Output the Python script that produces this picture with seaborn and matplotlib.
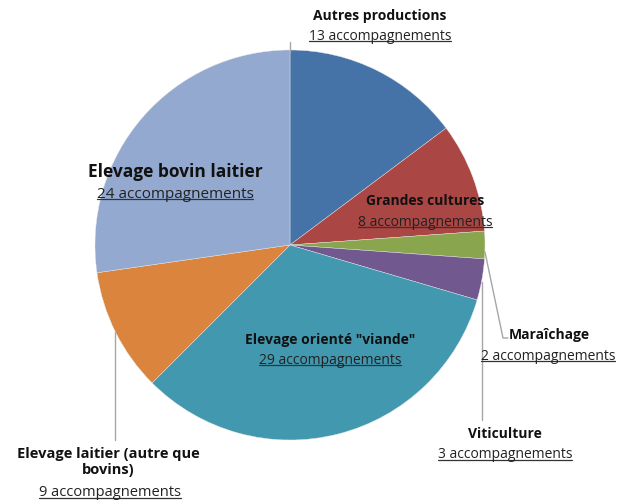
import matplotlib
matplotlib.use("Agg")
import matplotlib.pyplot as plt
import seaborn as sns

categories = ["Autres productions", "Grandes cultures", "Maraîchage", "Viticulture",
              "Elevage orienté \"viande\"", "Elevage laitier (autre que\nbovins)",
              "Elevage bovin laitier"]
values = [13, 8, 2, 3, 29, 9, 24]
count_labels = [f"{v} accompagnements" for v in values]
colors = ["#4572A7", "#AA4643", "#89A54E", "#71588F", "#4198AF", "#DB843D", "#93A9CF"]

sns.set_style("white")
plt.rcParams['font.family'] = ['Open Sans', 'DejaVu Sans']

W, H = 619, 503
fig = plt.figure(figsize=(W / 100, H / 100), dpi=100)
ax = fig.add_axes([0, 0, 1, 1])

def Y(y):
    return H - y

cx, cy, r = 290, 245, 195
ax.pie(values, colors=sns.color_palette(colors), startangle=90, counterclock=False,
       center=(cx, Y(cy)), radius=r, frame=True,
       wedgeprops=dict(linewidth=0.3, edgecolor="#e6e6e6"))
ax.set_xlim(0, W)
ax.set_ylim(0, H)
ax.set_axis_off()

line_c = "#a6a6a6"
# leader lines
ax.plot([290, 290], [Y(42), Y(52)], color=line_c, lw=1)
ax.plot([485, 503, 508], [Y(252), Y(338), Y(338)], color=line_c, lw=1)
ax.plot([482, 482], [Y(282), Y(420)], color=line_c, lw=1)
ax.plot([115, 115], [Y(332), Y(440)], color=line_c, lw=1)

txt_c = "#111111"
specs = [
    (0, (380, 16), 10, (380, 36), 10, "center"),
    (1, (425, 201), 10, (425, 222), 10, "center"),
    (2, (509, 335), 10, (548, 356), 10, "left"),
    (3, (505, 434), 10, (505, 455), 10, "center"),
    (4, (330, 340), 10, (330, 360), 10, "center"),
    (5, (108, 462), 10.5, (110, 493), 10.5, "center"),
    (6, (175, 172), 12.5, (175, 194), 11, "center"),
]

under = []
for idx, npos, nsz, cpos, csz, ha in specs:
    ax.text(npos[0], Y(npos[1]), categories[idx], ha=ha, va="center", fontsize=nsz,
            fontweight="bold", color=txt_c, linespacing=1.2)
    t = ax.text(cpos[0], Y(cpos[1]), count_labels[idx], ha="center", va="center",
                fontsize=csz, color="#222222")
    under.append(t)

fig.canvas.draw()
renderer = fig.canvas.get_renderer()
inv = ax.transData.inverted()
for t in under:
    bb = t.get_window_extent(renderer)
    (x0, y0), (x1, y1) = inv.transform([[bb.x0, bb.y0], [bb.x1, bb.y1]])
    ax.plot([x0, x1], [y0 + 2.5, y0 + 2.5], color="#333333", lw=0.9)

fig.savefig("out.png", dpi=100)
